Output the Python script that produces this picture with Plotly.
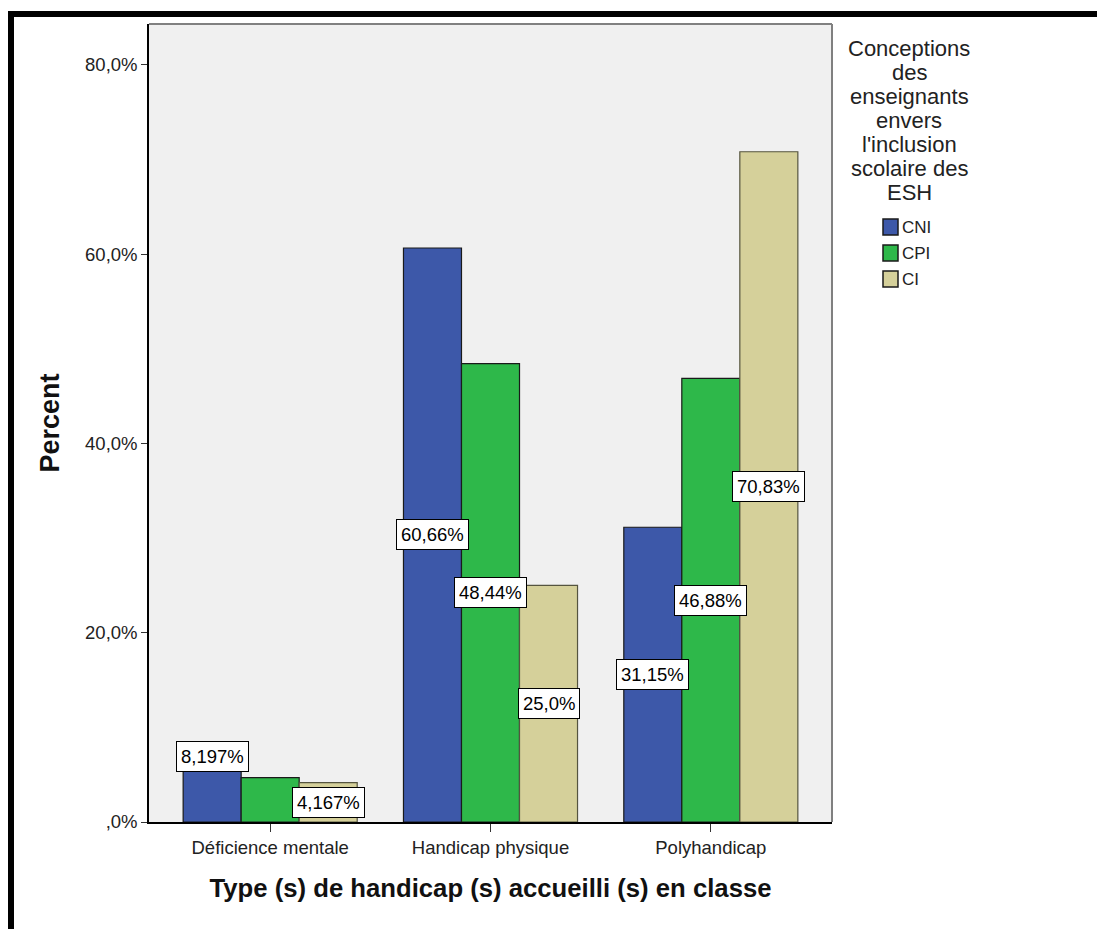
import plotly.graph_objects as go

categories = ["Déficience mentale", "Handicap physique", "Polyhandicap"]
series_names = ["CNI", "CPI", "CI"]
cni = [8.197, 60.66, 31.15]
cpi = [4.688, 48.44, 46.88]
ci = [4.167, 25.0, 70.83]
label_cni = ["8,197%", "60,66%", "31,15%"]
label_cpi = [None, "48,44%", "46,88%"]
label_ci = ["4,167%", "25,0%", "70,83%"]
y_tickvals = [0, 20, 40, 60, 80]
y_ticktext = [",0%", "20,0%", "40,0%", "60,0%", "80,0%"]
legend_title_lines = ["Conceptions", "des", "enseignants", "envers",
                      "l'inclusion", "scolaire des", "ESH"]

colors = ["#3D58A9", "#2EB84A", "#D5D09A"]
outlines = ["#1a1a1a", "#1a1a1a", "#55543f"]
FONT = "Liberation Sans, Arial, sans-serif"

values = [cni, cpi, ci]
labels = [label_cni, label_cpi, label_ci]
bargap = 0.21
bw = (1 - bargap) / 3

L, R, T, B = 149, 265, 24, 107
W, H = 1097, 929
pw, ph = W - L - R, H - T - B


def px(x):
    return (x - L) / pw


def py(y):
    return 1 - (y - T) / ph


fig = go.Figure()
xs = list(range(len(categories)))
for j, name in enumerate(series_names):
    fig.add_trace(go.Bar(
        x=xs, y=values[j], name=name,
        marker=dict(color=colors[j], line=dict(color=outlines[j], width=1.2)),
        showlegend=False, hoverinfo="skip",
    ))

nudge = {(0, 0): 27}
annotations = []
for j in range(3):
    for i in range(3):
        lab = labels[j][i]
        if lab is None:
            continue
        annotations.append(dict(
            x=i + (j - 1) * bw, y=values[j][i] / 2, xref="x", yref="y",
            text=lab, showarrow=False, yshift=nudge.get((j, i), 0),
            font=dict(family=FONT, size=18.5, color="black"),
            bgcolor="white", bordercolor="black", borderwidth=1, borderpad=4,
        ))

for k, line in enumerate(legend_title_lines):
    annotations.append(dict(
        x=px(909), y=py(49 + 24 * k), xref="paper", yref="paper", text=line,
        showarrow=False, font=dict(family=FONT, size=22, color="#222"),
        xanchor="center", yanchor="middle",
    ))

shapes = [
    dict(type="line", xref="paper", yref="paper", x0=0, x1=1, y0=1, y1=1,
         line=dict(color="#808080", width=2), layer="below"),
    dict(type="line", xref="paper", yref="paper", x0=1, x1=1, y0=0, y1=1,
         line=dict(color="#808080", width=2), layer="below"),
    dict(type="line", xref="paper", yref="paper", xsizemode="pixel", ysizemode="pixel",
         xanchor=0, yanchor=1, x0=-141, x1=W - L, y0=10, y1=10,
         line=dict(color="black", width=6)),
    dict(type="line", xref="paper", yref="paper", xsizemode="pixel", ysizemode="pixel",
         xanchor=0, yanchor=1, x0=-138, x1=-138, y0=13, y1=-(H - T),
         line=dict(color="black", width=6)),
]

# manual legend entries
for j, name in enumerate(series_names):
    cy = 227 + 26 * j
    shapes.append(dict(type="rect", xref="paper", yref="paper",
                       x0=px(883), x1=px(898), y0=py(cy + 8), y1=py(cy - 8),
                       fillcolor=colors[j], line=dict(color="#1a1a1a", width=1.5)))
    annotations.append(dict(
        x=px(900), y=py(cy), xref="paper", yref="paper", text=name,
        showarrow=False, font=dict(family=FONT, size=17, color="#222"),
        xanchor="left", yanchor="middle",
    ))

fig.update_layout(
    width=W, height=H,
    margin=dict(l=L, r=R, t=T, b=B, autoexpand=False),
    paper_bgcolor="white", plot_bgcolor="#F0F0F0",
    barmode="group", bargap=bargap, bargroupgap=0,
    font=dict(family=FONT, size=18, color="#222"),
    annotations=annotations, shapes=shapes, showlegend=False,
    xaxis=dict(range=[-0.55, 2.55], tickvals=xs, ticktext=categories,
               showgrid=False, zeroline=False, showline=True, linecolor="black",
               linewidth=1.5, ticks="outside", ticklen=8, tickcolor="#333",
               tickfont=dict(family=FONT, size=18.5, color="#222"),
               title=dict(text="<b>Type (s) de handicap (s) accueilli (s) en classe</b>",
                          font=dict(family=FONT, size=25.7, color="#111"), standoff=22)),
    yaxis=dict(range=[0, 84.33], tickvals=y_tickvals, ticktext=y_ticktext,
               showgrid=False, zeroline=False, showline=True, linecolor="black",
               linewidth=1.5, ticks="outside", ticklen=6, tickcolor="#333",
               tickfont=dict(family=FONT, size=18.5, color="#222"),
               title=dict(text="<b>Percent</b>",
                          font=dict(family=FONT, size=27, color="#111"), standoff=18)),
)

fig.write_html("out.html")
